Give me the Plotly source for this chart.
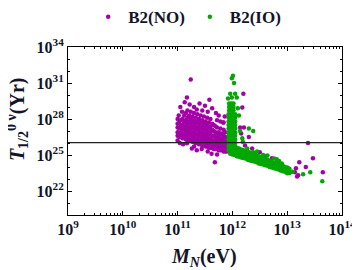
import numpy as np
import plotly.graph_objects as go

# ---------------- data (log10 values) ----------------
# B2(NO): dense purple cloud, columns of (log10 M_N, log10 T)
no_logM = [
    11.00, 11.00, 11.00, 11.00,
    11.03, 11.03, 11.03, 11.03,
    11.06, 11.06, 11.06, 11.06,
    11.09, 11.09, 11.09, 11.09, 11.09,
    11.12, 11.12, 11.12, 11.12, 11.12,
    11.15, 11.15, 11.15, 11.15, 11.15, 11.15,
    11.18, 11.18, 11.18, 11.18, 11.18, 11.18,
    11.21, 11.21, 11.21, 11.21, 11.21, 11.21,
    11.24, 11.24, 11.24, 11.24, 11.24, 11.24,
    11.27, 11.27, 11.27, 11.27, 11.27, 11.27,
    11.30, 11.30, 11.30, 11.30, 11.30, 11.30,
    11.33, 11.33, 11.33, 11.33, 11.33, 11.33,
    11.36, 11.36, 11.36, 11.36, 11.36, 11.36,
    11.39, 11.39, 11.39, 11.39, 11.39, 11.39,
    11.42, 11.42, 11.42, 11.42, 11.42, 11.42,
    11.45, 11.45, 11.45, 11.45, 11.45, 11.45,
    11.48, 11.48, 11.48, 11.48, 11.48, 11.48,
    11.51, 11.51, 11.51, 11.51, 11.51, 11.51,
    11.54, 11.54, 11.54, 11.54, 11.54, 11.54,
    11.57, 11.57, 11.57, 11.57, 11.57, 11.57,
    11.60, 11.60, 11.60, 11.60, 11.60, 11.60,
    11.63, 11.63, 11.63, 11.63, 11.63, 11.63,
    11.66, 11.66, 11.66, 11.66, 11.66, 11.66,
    11.69, 11.69, 11.69, 11.69, 11.69, 11.69,
    11.72, 11.72, 11.72, 11.72, 11.72, 11.72, 11.72,
    11.75, 11.75, 11.75, 11.75, 11.75,
    11.78, 11.78, 11.78, 11.78, 11.78, 11.78, 11.78,
    11.81, 11.81, 11.81, 11.81, 11.81,
    11.84, 11.84, 11.84, 11.84, 11.84, 11.84, 11.84,
    11.87, 11.87, 11.87, 11.87, 11.87, 11.87,
    11.90, 11.90, 11.90, 11.90, 11.90,
    # scattered
    11.24, 11.17, 11.13, 11.22, 11.05, 11.30, 11.40, 11.50, 11.58, 11.63,
    11.70, 11.45, 11.35, 11.02, 11.00, 11.08, 11.55, 11.75, 11.86,
    11.00, 11.04, 11.10, 11.17, 11.26, 11.35, 11.30, 11.44, 11.55, 11.68,
    11.62, 11.72, 11.83,
    12.14, 12.16, 12.20, 12.18, 12.23, 12.36, 12.23, 12.41, 12.21, 12.30,
    12.45, 12.50, 12.55, 12.59, 12.62, 12.68, 12.72, 12.78, 12.81, 12.85,
    12.90, 12.95, 13.01, 13.05, 13.14, 13.16, 13.18, 13.20, 13.22, 13.34,
    13.38, 13.47, 13.65,
]
no_logT = [
    26.6, 26.9, 27.3, 27.6,
    26.5, 26.8, 27.2, 27.7,
    26.5, 26.9, 27.4, 27.9,
    26.4, 26.7, 27.1, 27.5, 28.0,
    26.4, 26.8, 27.2, 27.7, 28.3,
    26.3, 26.6, 27.0, 27.4, 27.9, 28.5,
    26.3, 26.7, 27.1, 27.6, 28.1, 28.7,
    26.2, 26.5, 26.9, 27.3, 27.8, 28.3,
    26.2, 26.6, 27.0, 27.5, 28.0, 28.6,
    26.1, 26.4, 26.8, 27.2, 27.7, 28.2,
    26.1, 26.5, 26.9, 27.4, 27.9, 28.5,
    26.0, 26.3, 26.7, 27.1, 27.6, 28.1,
    26.0, 26.4, 26.8, 27.3, 27.8, 28.4,
    25.9, 26.2, 26.6, 27.0, 27.5, 28.0,
    25.9, 26.3, 26.7, 27.2, 27.7, 28.3,
    25.8, 26.1, 26.5, 26.9, 27.4, 27.9,
    25.8, 26.2, 26.6, 27.1, 27.6, 28.2,
    25.7, 26.0, 26.4, 26.8, 27.3, 27.8,
    25.7, 26.1, 26.5, 27.0, 27.5, 28.1,
    25.6, 25.9, 26.3, 26.7, 27.2, 27.7,
    25.6, 26.0, 26.4, 26.9, 27.4, 28.0,
    25.6, 25.9, 26.2, 26.6, 27.1, 27.6,
    25.5, 25.8, 26.2, 26.6, 27.0, 27.5,
    25.5, 25.8, 26.1, 26.5, 26.9, 27.4,
    25.5, 25.7, 26.0, 26.4, 26.8, 27.3, 27.9,
    25.4, 25.7, 26.1, 26.5, 26.9,
    25.4, 25.6, 25.9, 26.3, 26.7, 27.2, 27.8,
    25.4, 25.6, 26.0, 26.4, 26.8,
    25.3, 25.5, 25.8, 26.2, 26.6, 27.1, 27.7,
    25.3, 25.5, 25.8, 26.1, 26.5, 26.9,
    25.3, 25.5, 25.7, 26.0, 26.4,
    # scattered
    31.3, 29.8, 29.4, 29.2, 29.0, 29.0, 29.3, 29.1, 29.6, 28.9,
    28.5, 28.7, 28.8, 28.3, 28.0, 28.6, 28.6, 28.3, 28.2,
    26.2, 26.0, 25.9, 25.97, 25.55, 25.4, 25.7, 25.5, 25.3, 24.4,
    25.1, 25.05, 27.7,
    27.3, 26.8, 30.1, 28.95, 25.0, 25.55, 25.8, 25.14, 27.3, 26.5,
    24.9, 25.22, 24.6, 24.89, 24.5, 24.3, 24.72, 24.31, 24.14, 24.0,
    24.23, 23.8, 23.89, 23.56, 23.56, 23.9, 23.2, 23.31, 24.39, 24.0,
    26.0, 24.72, 23.56,
]

# B2(IO): green column, band and scattered points
io_logM = [
    # column
    11.93, 11.97, 12.01, 12.05, 11.93, 11.97, 12.01, 12.05,
    11.93, 11.97, 12.01, 12.05, 11.93, 11.97, 12.01, 12.05,
    11.93, 11.97, 12.01, 12.05, 11.93, 11.97, 12.01, 12.05,
    11.93, 11.97, 12.01, 12.05, 11.93, 11.97, 12.01, 12.05,
    11.93, 11.97, 12.01, 12.05, 11.93, 11.97, 12.01, 12.05,
    11.93, 11.97, 12.01, 12.05,
    11.94, 11.98, 12.02, 11.94, 11.98, 12.02, 11.94, 11.98, 12.02,
    # band
    11.96, 11.96, 11.96, 11.96, 12.00, 12.00, 12.00, 12.00,
    12.04, 12.04, 12.04, 12.04, 12.08, 12.08, 12.08, 12.08,
    12.12, 12.12, 12.12, 12.12, 12.16, 12.16, 12.16, 12.16,
    12.20, 12.20, 12.20, 12.20, 12.24, 12.24, 12.24, 12.24,
    12.28, 12.28, 12.28, 12.28, 12.32, 12.32, 12.32, 12.32,
    12.36, 12.36, 12.36, 12.36, 12.40, 12.40, 12.40, 12.40,
    12.44, 12.44, 12.44, 12.44, 12.48, 12.48, 12.48, 12.48,
    12.52, 12.52, 12.52, 12.52, 12.56, 12.56, 12.56, 12.56,
    12.60, 12.60, 12.60, 12.60, 12.64, 12.64, 12.64, 12.64,
    12.68, 12.68, 12.68, 12.72, 12.72, 12.72, 12.76, 12.76, 12.76,
    12.80, 12.80, 12.80, 12.84, 12.84, 12.84, 12.88, 12.88, 12.88,
    12.92, 12.92, 12.92, 12.96, 12.96, 12.96, 13.00, 13.00, 13.00,
    13.04, 13.04, 13.04,
    # scattered
    12.01, 11.99, 12.03, 11.96, 12.05, 11.99, 12.08, 11.92, 12.10, 12.12,
    12.14, 12.30, 12.38, 12.18, 12.19, 12.27, 12.28, 12.38, 12.45, 12.56,
    12.64, 12.81, 12.90, 13.00, 13.10, 13.29, 13.42, 13.64, 12.76, 12.85,
]
io_logT = [
    # column
    25.4, 25.4, 25.4, 25.4, 25.7, 25.7, 25.7, 25.7,
    26.0, 26.0, 26.0, 26.0, 26.3, 26.3, 26.3, 26.3,
    26.6, 26.6, 26.6, 26.6, 26.9, 26.9, 26.9, 26.9,
    27.2, 27.2, 27.2, 27.2, 27.5, 27.5, 27.5, 27.5,
    27.8, 27.8, 27.8, 27.8, 28.1, 28.1, 28.1, 28.1,
    28.4, 28.4, 28.4, 28.4,
    28.7, 28.7, 28.7, 29.0, 29.0, 29.0, 29.3, 29.3, 29.3,
    # band
    25.1, 25.35, 25.6, 25.85, 25.05, 25.3, 25.55, 25.75,
    25.0, 25.25, 25.5, 25.7, 24.9, 25.15, 25.4, 25.6,
    24.85, 25.1, 25.3, 25.55, 24.8, 25.05, 25.25, 25.45,
    24.75, 25.0, 25.2, 25.4, 24.7, 24.95, 25.15, 25.3,
    24.6, 24.85, 25.05, 25.25, 24.55, 24.8, 25.0, 25.2,
    24.5, 24.75, 24.95, 25.1, 24.45, 24.7, 24.85, 25.05,
    24.4, 24.6, 24.8, 24.95, 24.3, 24.55, 24.75, 24.9,
    24.25, 24.5, 24.7, 24.8, 24.2, 24.45, 24.6, 24.75,
    24.15, 24.4, 24.55, 24.7, 24.1, 24.3, 24.45, 24.6,
    24.0, 24.25, 24.5, 23.95, 24.2, 24.45, 23.9, 24.15, 24.35,
    23.85, 24.1, 24.3, 23.8, 24.0, 24.25, 23.7, 23.95, 24.15,
    23.65, 23.9, 24.1, 23.6, 23.8, 24.0, 23.55, 23.75, 23.95,
    23.5, 23.7, 23.85,
    # scattered
    31.6, 31.4, 31.0, 30.1, 30.1, 29.8, 29.8, 29.7, 28.9, 28.3,
    27.0, 27.2, 27.0, 26.4, 26.1, 25.55, 25.2, 25.22, 25.3, 25.0,
    24.95, 24.64, 24.3, 23.48, 23.6, 23.4, 23.56, 22.82, 24.7, 24.5,
]

bound_T = 1.07e26
x_range_M = [1e9, 1e14]

x_tickvals = [1e9, 1e10, 1e11, 1e12, 1e13, 1e14]
x_ticktext = ["<b>10<sup>9</sup></b>", "<b>10<sup>10</sup></b>", "<b>10<sup>11</sup></b>",
              "<b>10<sup>12</sup></b>", "<b>10<sup>13</sup></b>", "<b>10<sup>14</sup></b>"]
y_tickvals = [1e22, 1e25, 1e28, 1e31, 1e34]
y_ticktext = ["<b>10<sup>22</sup></b>", "<b>10<sup>25</sup></b>", "<b>10<sup>28</sup></b>",
              "<b>10<sup>31</sup></b>", "<b>10<sup>34</sup></b>"]

x_title = "<b><i>M</i><sub><i>N</i></sub>(eV)</b>"
y_title = "<b><i>T</i><sub>1/2</sub><sup>0 ν</sup>(Yr)</b>"

# ---------------- figure ----------------
no_x = [10.0 ** v for v in no_logM]
no_y = [10.0 ** v for v in no_logT]
io_x = [10.0 ** v for v in io_logM]
io_y = [10.0 ** v for v in io_logT]

PURPLE = "#a400a8"
GREEN = "#00a800"
FONT = "Liberation Serif"
TXT = "#141428"

fig = go.Figure()
fig.add_trace(go.Scatter(x=no_x, y=no_y, mode="markers", name="<b>B2(NO)</b>",
                         marker=dict(color=PURPLE, size=4.5, line=dict(width=0))))
fig.add_trace(go.Scatter(x=io_x, y=io_y, mode="markers", name="<b>B2(IO)</b>",
                         marker=dict(color=GREEN, size=4.5, line=dict(width=0))))
fig.add_trace(go.Scatter(x=x_range_M, y=[bound_T, bound_T], mode="lines",
                         line=dict(color="#222222", width=1.3),
                         showlegend=False, hoverinfo="skip"))

x_minor = [float(k) * 10.0 ** e for e in range(9, 14) for k in range(2, 10)]
y_minor = [10.0 ** e for e in range(20, 35)]

fig.update_layout(
    width=360, height=270,
    margin=dict(l=60, r=26, t=39, b=63, autoexpand=False),
    paper_bgcolor="white", plot_bgcolor="white",
    font=dict(family=FONT, color=TXT),
    showlegend=True,
    legend=dict(orientation="h", x=0.435, xanchor="center",
                yref="container", y=0.966, yanchor="middle",
                font=dict(family=FONT, size=17, color=TXT),
                itemsizing="trace", itemwidth=30, bgcolor="rgba(0,0,0,0)",
                tracegroupgap=0),
    xaxis=dict(type="log", range=[9, 14], tickmode="array", tickvals=x_tickvals,
               ticktext=x_ticktext, ticks="inside", ticklen=4, tickcolor="black",
               showline=True, linecolor="black", linewidth=1, mirror="ticks",
               showgrid=False, zeroline=False, automargin=False,
               tickfont=dict(family=FONT, size=16, color=TXT),
               minor=dict(tickmode="array", tickvals=x_minor, ticks="inside",
                          ticklen=2, tickcolor="black", showgrid=False)),
    yaxis=dict(type="log", range=[20, 34], tickmode="array", tickvals=y_tickvals,
               ticktext=y_ticktext, ticks="inside", ticklen=4, tickcolor="black",
               showline=True, linecolor="black", linewidth=1, mirror="ticks",
               showgrid=False, zeroline=False, automargin=False,
               tickfont=dict(family=FONT, size=16, color=TXT),
               minor=dict(tickmode="array", tickvals=y_minor, ticks="inside",
                          ticklen=2, tickcolor="black", showgrid=False)),
    annotations=[
        dict(text=x_title, xref="paper", yref="paper", x=0.496, y=-0.25,
             xanchor="center", yanchor="middle", showarrow=False,
             font=dict(family=FONT, size=20, color=TXT)),
        dict(text=y_title, xref="paper", yref="paper", x=-0.183, y=0.57,
             xanchor="center", yanchor="middle", textangle=-90, showarrow=False,
             font=dict(family=FONT, size=20, color=TXT)),
    ],
)

fig.write_html("out.html")
